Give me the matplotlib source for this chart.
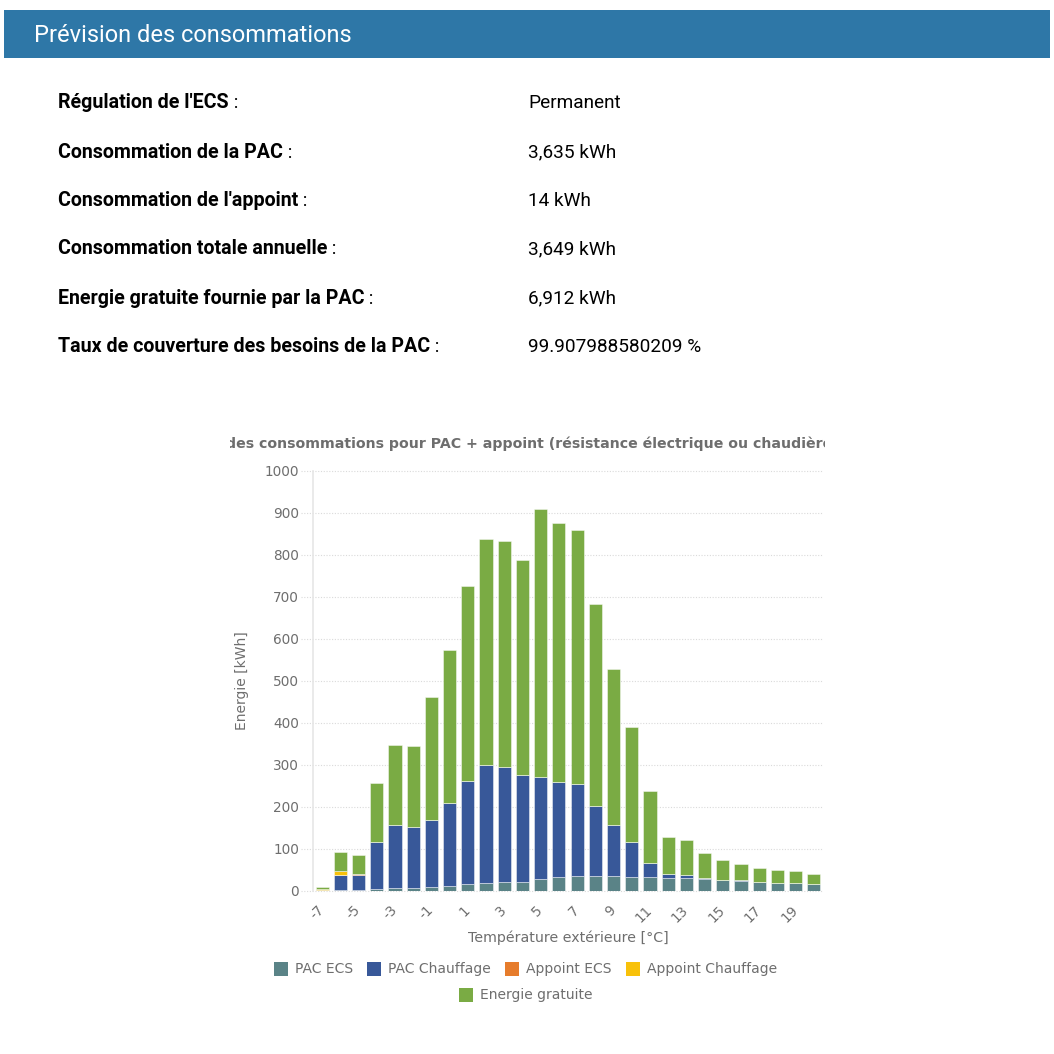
import matplotlib
matplotlib.use("Agg")
import matplotlib.pyplot as plt
from matplotlib.patches import Rectangle
from matplotlib.transforms import Bbox

# ---------------- data ----------------
temperatures = list(range(-7, 21))
pac_ecs = [1, 2, 2, 5, 6, 7, 9, 13, 16, 19, 21, 21, 29, 33,
           35, 35, 35, 34, 33, 31, 30, 29, 26, 25, 22, 19, 19, 16]
pac_chauffage = [2, 36, 36, 111, 150, 146, 161, 197, 247, 281, 275, 256, 243, 227,
                 219, 167, 122, 82, 33, 10, 8, 3, 1, 0.5, 0, 0, 0, 0]
appoint_ecs = [0.5, 1, 1.5, 0, 0, 0, 0, 0, 0, 0, 0, 0, 0, 0,
               0, 0, 0, 0, 0, 0, 0, 0, 0, 0, 0, 0, 0, 0]
appoint_chauffage = [0.5, 8, 2, 0, 0, 0, 0, 0, 0, 0, 0, 0, 0, 0,
                     0, 0, 0, 0, 0, 0, 0, 0, 0, 0, 0, 0, 0, 0]
energie_gratuite = [6, 46, 44.5, 141, 192, 192, 291, 364, 462, 537, 537, 510, 638, 617,
                    605, 481, 372, 274, 171, 88, 83, 58, 46, 38.5, 33, 31, 29, 24]

series_names = ["PAC ECS", "PAC Chauffage", "Appoint ECS", "Appoint Chauffage", "Energie gratuite"]
series_colors = ["#5A8387", "#385899", "#E67C2C", "#F8C10A", "#7AAB44"]
yticks = [0, 100, 200, 300, 400, 500, 600, 700, 800, 900, 1000]

info_labels = ["Régulation de l'ECS", "Consommation de la PAC", "Consommation de l'appoint",
               "Consommation totale annuelle", "Energie gratuite fournie par la PAC",
               "Taux de couverture des besoins de la PAC"]
info_values = ["Permanent", "3,635 kWh", "14 kWh", "3,649 kWh", "6,912 kWh", "99.907988580209 %"]

header_title = "Prévision des consommations"
chart_title = "des consommations pour PAC + appoint (résistance électrique ou chaudière)"
x_label = "Température extérieure [°C]"
y_label = "Energie [kWh]"

# ---------------- figure ----------------
W = H = 1054
fig = plt.figure(figsize=(W / 100, H / 100), dpi=100)
fig.patch.set_facecolor("white")

def fx(x):
    return x / W

def fy(y):
    return 1 - y / H

# Header bar
fig.patches.append(Rectangle((fx(4), fy(58)), fx(1046), 48 / H, transform=fig.transFigure,
                             facecolor="#2E77A7", edgecolor="none", zorder=0))
fig.text(fx(34), fy(35), header_title, color="white", family="Roboto", fontsize=17,
         va="center", ha="left")

renderer = fig.canvas.get_renderer()
row_y = [102, 151, 199, 248, 297, 346]
for lab, val, yy in zip(info_labels, info_values, row_y):
    t = fig.text(fx(58), fy(yy + 6.5), lab, family="Roboto", weight="bold", fontsize=14.1,
                 color="black", va="baseline", ha="left")
    bb = t.get_window_extent(renderer=renderer)
    fig.text(bb.x1 / W, fy(yy + 6.5), " :", family="Roboto", fontsize=13.7,
             color="black", va="baseline", ha="left")
    fig.text(fx(528), fy(yy + 6.5), val, family="Roboto", fontsize=13.7,
             color="black", va="baseline", ha="left")

# ---------------- chart ----------------
ax_left, ax_right, ax_top, ax_bottom = 313, 823, 471, 891
ax = fig.add_axes([fx(ax_left), fy(ax_bottom), (ax_right - ax_left) / W, (ax_bottom - ax_top) / H])
x = list(range(len(temperatures)))
data = [pac_ecs, pac_chauffage, appoint_ecs, appoint_chauffage, energie_gratuite]
bottom = [0] * len(x)
for name, vals, col in zip(series_names, data, series_colors):
    ax.bar(x, vals, bottom=bottom, width=0.72, color=col, edgecolor=(1, 1, 1, 0.45),
           linewidth=0.7, label=name, zorder=3)
    bottom = [b + v for b, v in zip(bottom, vals)]

ax.set_xlim(-0.5, len(x) - 0.5)
ax.set_ylim(0, 1000)
ax.set_yticks(yticks)
ax.set_yticklabels([str(v) for v in yticks])
for s in ["top", "right", "bottom"]:
    ax.spines[s].set_visible(False)
ax.spines["left"].set_color("#E6E6E6")
ax.spines["left"].set_linewidth(1.2)
ax.tick_params(axis="y", length=0, pad=10, labelsize=9.8, labelcolor="#6E6E6E")
ax.hlines(yticks, -0.024, 1, transform=ax.get_yaxis_transform(), colors="#DADADA",
          linestyles=(0, (1, 1.5)), linewidth=0.8, clip_on=False, zorder=1)

tick_pos = x[::2]
ax.set_xticks(tick_pos)
ax.set_xticklabels([str(temperatures[i]) for i in tick_pos], rotation=45, ha="right",
                   rotation_mode="anchor", va="center")
ax.tick_params(axis="x", length=0, pad=12, labelsize=9.8, labelcolor="#6E6E6E")

ax.set_xlabel(x_label, fontsize=10.2, color="#6E6E6E", labelpad=4)
ax.set_ylabel(y_label, fontsize=10, color="#6E6E6E", labelpad=11)

# clipped chart title
title = fig.text(fx(226), fy(444), chart_title, fontsize=10.2, weight="bold",
                 color="#6E6E6E", ha="left", va="center")
title.set_clip_box(Bbox([[230, 0], [825, H]]))
title.set_clip_on(True)

# manual legend
leg_items = [(274, 969), (367, 969), (505, 969), (626, 969), (459, 995)]
for name, col, (lx, ly) in zip(series_names, series_colors, leg_items):
    fig.patches.append(Rectangle((fx(lx), fy(ly + 7)), 14 / W, 14 / H, transform=fig.transFigure,
                                 facecolor=col, edgecolor="none"))
    fig.text(fx(lx + 21), fy(ly), name, fontsize=10, color="#6E6E6E", ha="left", va="center")

fig.savefig("out.png", dpi=100, facecolor="white")
